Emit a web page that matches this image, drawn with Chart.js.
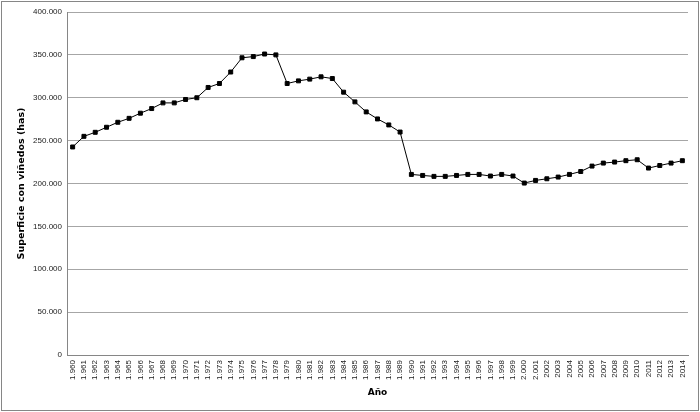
<!DOCTYPE html>
<html>
<head>
<meta charset="utf-8">
<script src="https://cdn.jsdelivr.net/npm/chart.js@4.4.1/dist/chart.umd.min.js"></script>
<style>
  body { margin: 0; background: #fff; }
  #wrap { width: 700px; height: 412px; }
</style>
</head>
<body>
<div id="wrap"><canvas id="myChart" width="700" height="412"></canvas></div>
<script>
// años tal como aparecen en el eje
const anios = ['1.960','1.961','1.962','1.963','1.964','1.965','1.966','1.967','1.968','1.969',
  '1.970','1.971','1.972','1.973','1.974','1.975','1.976','1.977','1.978','1.979',
  '1.980','1.981','1.982','1.983','1.984','1.985','1.986','1.987','1.988','1.989',
  '1.990','1.991','1.992','1.993','1.994','1.995','1.996','1.997','1.998','1.999',
  '2.000','2.001','2002','2003','2004','2005','2006','2007','2008','2009',
  '2010','2011','2012','2013','2014'];

// superficie con viñedos (has)
const superficie = [242600, 255000, 259700, 265600, 271400, 276000, 282000, 287400, 294000, 294000,
  298000, 300000, 312000, 316600, 330000, 346600, 348000, 351000, 350000, 316600,
  319700, 321700, 324400, 322400, 306500, 295200, 283500, 275300, 268300, 260000,
  210600, 209400, 208300, 208300, 209400, 210600, 210600, 208700, 210600, 208700,
  200500, 203600, 205500, 207500, 210600, 214000, 220300, 223800, 225000, 226600,
  227700, 218000, 221000, 223800, 226600];

const yMin = 0;
const yMax = 400000;
const yPaso = 50000;

function conPuntos(v) {
  return String(v).replace(/\B(?=(\d{3})+(?!\d))/g, '.');
}

// marco gris alrededor de todo el gráfico
const marco = {
  id: 'marco',
  afterDraw(chart) {
    const c = chart.ctx;
    c.save();
    c.strokeStyle = '#868686';
    c.lineWidth = 1;
    c.strokeRect(1.5, 1.5, chart.width - 3, chart.height - 3);
    c.restore();
  }
};

const ctx = document.getElementById('myChart');
new Chart(ctx, {
  type: 'line',
  data: {
    labels: anios,
    datasets: [{
      label: 'Superficie con viñedos (has)',
      data: superficie,
      borderColor: '#000',
      backgroundColor: '#000',
      borderWidth: 1,
      pointStyle: 'rect',
      pointRadius: 2.8,
      pointHoverRadius: 2.8,
      tension: 0,
      fill: false
    }]
  },
  options: {
    responsive: false,
    animation: false,
    devicePixelRatio: 1,
    layout: { padding: { left: 16, right: 12, top: 12, bottom: 14 } },
    plugins: {
      legend: { display: false },
      tooltip: { enabled: false }
    },
    scales: {
      x: {
        type: 'category',
        offset: true,
        grid: { display: false, drawTicks: false },
        border: { color: '#868686' },
        ticks: {
          autoSkip: false,
          minRotation: 90,
          maxRotation: 90,
          padding: 5,
          color: '#1a1a1a',
          font: { family: 'Liberation Sans', size: 8 }
        },
        title: {
          display: true,
          text: 'Año',
          color: '#000',
          padding: { top: 2, bottom: 0 },
          font: { family: 'DejaVu Sans', size: 9, weight: 'bold' }
        },
        afterFit(scale) { scale.height = 43; }
      },
      y: {
        min: yMin,
        max: yMax,
        grid: { color: '#a6a6a6', drawTicks: false },
        border: { color: '#868686' },
        ticks: {
          stepSize: yPaso,
          padding: 5,
          color: '#1a1a1a',
          font: { family: 'Liberation Sans', size: 8 },
          callback: v => conPuntos(v)
        },
        title: {
          display: true,
          text: 'Superficie con viñedos (has)',
          color: '#000',
          padding: { top: 0, bottom: 2 },
          font: { family: 'DejaVu Sans', size: 9.5, weight: 'bold' }
        },
        afterFit(scale) { scale.width = 51; }
      }
    }
  },
  plugins: [marco]
});
</script>
</body>
</html>
